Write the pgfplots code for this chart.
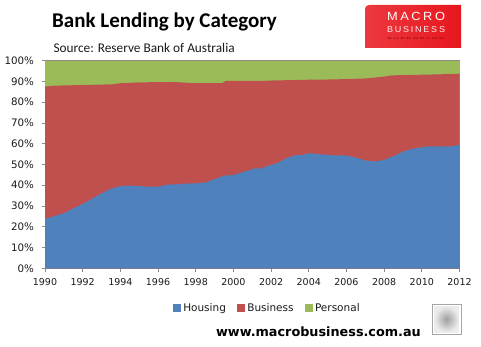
\documentclass[border=0pt]{standalone}
\usepackage{fontspec}
\usepackage{graphicx}
\usepackage{pgfplots}
\pgfplotsset{compat=1.18}
\setmainfont{DejaVu Sans}
\newfontfamily\titlefont{Carlito}
\newfontfamily\logofont[LetterSpace=20]{Liberation Sans}
\definecolor{houseblue}{HTML}{4F81BD}
\definecolor{busred}{HTML}{C0504D}
\definecolor{persgreen}{HTML}{9BBB59}
\definecolor{axgray}{HTML}{8C8C8C}
\definecolor{txt}{HTML}{1A1A1A}
\definecolor{logored}{HTML}{E8161D}
\pgfplotsset{sq/.style={legend image code/.code={\fill[#1] (0pt,-3.5pt) rectangle (7pt,3.5pt);}}}
\begin{document}
\begin{tikzpicture}[x=1pt,y=1pt]
\useasboundingbox (0,0) rectangle (481,346);
\begin{axis}[
  at={(45pt,77.7pt)}, anchor=south west,
  scale only axis, width=414.5pt, height=207.7pt,
  xmin=1990, xmax=2012, ymin=0, ymax=100,
  axis x line*=bottom, axis y line*=left,
  axis line style={draw=axgray, line width=0.8pt},
  tick style={draw=axgray, line width=0.8pt},
  tick align=outside, major tick length=3.5pt,
  xtick={1990,1992,...,2012},
  ytick={0,10,...,100},
  yticklabel={\pgfmathprintnumber{\tick}\%},
  /pgf/number format/assume math mode=true,
  x tick label style={/pgf/number format/1000 sep={}, font=\fontsize{9.5}{10}\selectfont, text=txt, yshift=-3pt},
  y tick label style={font=\fontsize{10.3}{11}\selectfont, text=txt, xshift=-4pt},
  legend style={draw=none, fill=none, at={(0.535,-0.192)}, anchor=center,
    font=\fontsize{10.5}{11}\selectfont, text=txt,
    /tikz/every odd column/.append style={column sep=2pt},
    nodes={inner ysep=1.5pt, inner xsep=1pt}},
  legend columns=3,
  clip=false,
]
\addplot[fill=persgreen, draw=none, forget plot] coordinates {(1990,100) (2012,100)} \closedcycle;
\addplot[fill=busred, draw=none, forget plot] table {
x y
1990 87.5
1990.5 87.9
1991 88.05
1992 88.25
1993 88.45
1993.6 88.6
1994 89.1
1995 89.5
1996 89.65
1996.8 89.7
1997.5 89.35
1998 89.1
1999.4 89.2
1999.6 90.2
2001 90.3
2001.5 90.2
2002 90.4
2003 90.6
2004 90.8
2005 90.9
2006 91.1
2007 91.4
2007.5 91.8
2008 92.3
2008.4 92.9
2009 93.0
2010 93.2
2011 93.4
2012 93.7
} \closedcycle;
\addplot[fill=houseblue, draw=none, forget plot] table {
x y
1990 23.8
1990.5 25.2
1991 26.5
1991.5 28.9
1992 31.0
1992.5 33.5
1993 36.1
1993.5 38.3
1994 39.6
1994.5 39.8
1995 39.6
1995.5 39.3
1996 39.3
1996.5 40.3
1997 40.4
1997.5 40.8
1998 40.9
1998.5 41.3
1999 42.9
1999.5 44.6
2000 44.9
2000.5 46.4
2001 47.6
2001.2 48.6
2001.3 47.7
2001.6 48.6
2002 49.8
2002.4 50.9
2002.7 52.5
2003.2 54.3
2003.7 54.6
2004 55.4
2004.6 54.9
2005.3 54.4
2006 54.3
2006.5 53.3
2007.1 51.7
2007.6 51.5
2008 52.2
2008.5 54.0
2009 56.2
2009.5 57.5
2010 58.3
2010.4 58.7
2011.5 58.7
2012 59.4
} \closedcycle;
\draw[axgray, line width=0.8pt] (axis cs:1990,100) -- (axis cs:2012,100);
\addlegendimage{sq=houseblue}
\addlegendentry{Housing\rule{10pt}{0pt}}
\addlegendimage{sq=busred}
\addlegendentry{Business\rule{10pt}{0pt}}
\addlegendimage{sq=persgreen}
\addlegendentry{Personal}
\end{axis}
% titles
\node[anchor=base west, inner sep=0pt, text=black] at (52,318.7) {\titlefont\bfseries\fontsize{21}{23}\selectfont Bank Lending by Category};
\node[anchor=base west, inner sep=0pt, text=txt] at (53.3,293.7) {\titlefont\fontsize{13.3}{15}\selectfont Source: Reserve Bank of Australia};
% logo
\shade[left color=logored!85!white, right color=logored] (365,298) -- (461,298) -- (461,341) -- (369,341) to[out=180,in=90] (365,337) -- cycle;
\node[inner sep=0pt, text=white] at (416,329.5) {\resizebox{58pt}{8.3pt}{\logofont MACRO}};
\node[inner sep=0pt, text=white!92!logored] at (416,316) {\resizebox{58pt}{6pt}{\logofont BUSINESS}};
\node[inner sep=0pt, text=logored!60!black] at (416,307.3) {\resizebox{58pt}{2pt}{\logofont SUPERBLOG}};
% website
\node[anchor=base east, inner sep=0pt, text=black] at (421,10) {\bfseries\fontsize{12.8}{14}\selectfont www.macrobusiness.com.au};
% wolf box
\draw[gray!70, fill=white] (432.3,11.7) rectangle (460.7,42);
\shade[inner color=gray!75, outer color=gray!15] (434.5,14) rectangle (458.5,39.7);
\end{tikzpicture}
\end{document}
